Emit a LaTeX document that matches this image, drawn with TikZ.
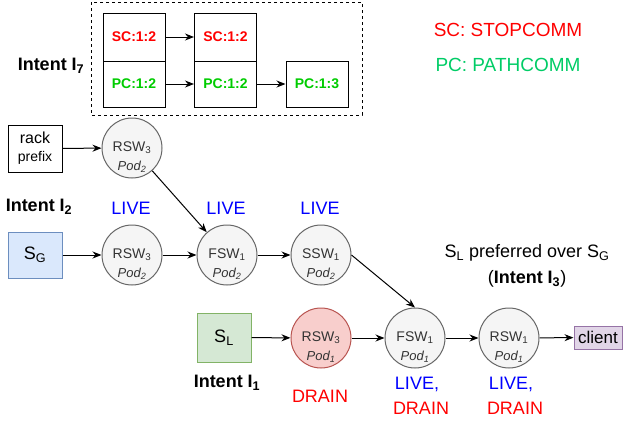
\documentclass[tikz,border=0pt]{standalone}
\usepackage{fontspec}
\setmainfont{Liberation Sans}
\usetikzlibrary{arrows.meta}
\definecolor{nodefill}{HTML}{F5F5F5}
\definecolor{nodeline}{HTML}{666666}
\definecolor{nodetext}{HTML}{333333}
\definecolor{sgfill}{HTML}{DAE8FC}
\definecolor{sgline}{HTML}{6C8EBF}
\definecolor{slfill}{HTML}{D5E8D4}
\definecolor{slline}{HTML}{82B366}
\definecolor{drfill}{HTML}{F8CECC}
\definecolor{drline}{HTML}{B85450}
\definecolor{clfill}{HTML}{E1D5E7}
\definecolor{clline}{HTML}{9673A6}
\definecolor{scred}{HTML}{FF0000}
\definecolor{pcgreen}{HTML}{00CC00}
\definecolor{pclegend}{HTML}{00CC66}
\definecolor{liveblue}{HTML}{0000FF}
\newcommand{\fs}[1]{\fontsize{#1}{#1}\selectfont}
\tikzset{
  sw/.style={circle, draw=nodeline, fill=nodefill, line width=1pt, minimum size=60pt, inner sep=0pt, text=nodetext, font=\fs{14}},
  podtext/.style={text=nodetext, font=\fs{13}\itshape, inner sep=0pt},
  cbox/.style={rectangle, draw=black, line width=1pt, minimum width=62pt, inner sep=0pt, font=\fs{14}\bfseries},
  plainbox/.style={rectangle, draw=black, line width=1pt, minimum width=54pt, minimum height=47pt, inner sep=0pt},
  colbox/.style={rectangle, line width=1pt, minimum width=54pt, minimum height=47pt, inner sep=0pt, font=\fs{18}},
  arr/.style={-{Stealth[length=9pt,width=7pt]}, line width=1pt, black},
  intent/.style={font=\fs{18}\bfseries, inner sep=0pt},
  state/.style={font=\fs{18}, inner sep=0pt, align=center},
  legend/.style={font=\fs{19}, inner sep=0pt}
}
\begin{document}
\begin{tikzpicture}[x=1pt, y=-1pt]
\useasboundingbox (0,0) rectangle (624,423);
% dashed frame
\draw[dashed, line width=1pt, dash pattern=on 3pt off 3pt] (91,2) rectangle (362,115);
% top boxes
\node[cbox, minimum height=48pt, text=scred] (sc1) at (134,37) {SC:1:2};
\node[cbox, minimum height=46pt, text=pcgreen] (pc1) at (134,84) {PC:1:2};
\node[cbox, minimum height=48pt, text=scred] (sc2) at (225.5,37) {SC:1:2};
\node[cbox, minimum height=46pt, text=pcgreen] (pc2) at (225.5,84) {PC:1:2};
\node[cbox, minimum height=46pt, text=pcgreen] (pc3) at (317,84) {PC:1:3};
\draw[arr] (sc1) -- (sc2);
\draw[arr] (pc1) -- (pc2);
\draw[arr] (pc2) -- (pc3);
\node[intent] (i7) at (51,66) {Intent I\textsubscript{7}};
% legend
\node[legend, text=scred] (lsc) at (508,30) {SC: STOPCOMM};
\node[legend, text=pclegend] (lpc) at (508,65) {PC: PATHCOMM};
% rack prefix
\node[plainbox, align=center, font=\fontsize{14}{18}\selectfont] (rack) at (35,148.5) {{\fs{16}rack}\\prefix};
\node[sw, label={[podtext, yshift=-19pt]center:\textit{Pod}\textsubscript{2}}] (rswt) at (132,148) {RSW\textsubscript{3}};
\draw[arr] (rack) -- (rswt);
% intent I2 row
\node[intent] (i2) at (39,207) {Intent I\textsubscript{2}};
\node[state, text=liveblue] (live1) at (131,208) {LIVE};
\node[state, text=liveblue] (live2) at (226,208) {LIVE};
\node[state, text=liveblue] (live3) at (320,208) {LIVE};
\node[colbox, draw=sgline, fill=sgfill, minimum height=46pt] (sg) at (35,255) {S\textsubscript{G}};
\node[sw, label={[podtext, yshift=-19pt]center:\textit{Pod}\textsubscript{2}}] (rsw2) at (132,255) {RSW\textsubscript{3}};
\node[sw, label={[podtext, yshift=-19pt]center:\textit{Pod}\textsubscript{2}}] (fsw2) at (227,255) {FSW\textsubscript{1}};
\node[sw, label={[podtext, yshift=-19pt]center:\textit{Pod}\textsubscript{2}}] (ssw2) at (321,255) {SSW\textsubscript{1}};
\draw[arr] (sg) -- (rsw2);
\draw[arr] (rsw2) -- (fsw2);
\draw[arr] (fsw2) -- (ssw2);
\draw[arr] (rswt) -- (fsw2);
% preference text
\node[font=\fs{18}, inner sep=0pt] (pref) at (527,253) {S\textsubscript{L} preferred over S\textsubscript{G}};
\node[font=\fs{18}, inner sep=0pt] (i3) at (527,279) {(\textbf{Intent I\textsubscript{3}})};
% bottom row
\node[colbox, draw=slline, fill=slfill, minimum height=49pt] (sl) at (224,337.5) {S\textsubscript{L}};
\node[sw, draw=drline, fill=drfill, label={[podtext, yshift=-19pt]center:\textit{Pod}\textsubscript{1}}] (rsw1) at (321,338) {RSW\textsubscript{3}};
\node[sw, label={[podtext, yshift=-19pt]center:\textit{Pod}\textsubscript{1}}] (fsw1) at (415,338) {FSW\textsubscript{1}};
\node[sw, label={[podtext, yshift=-19pt]center:\textit{Pod}\textsubscript{1}}] (rswc) at (509,338) {RSW\textsubscript{1}};
\node[rectangle, draw=clline, fill=clfill, line width=1pt, minimum width=48pt, minimum height=23pt, inner sep=0pt, font=\fs{17}] (client) at (598,337.5) {client};
\draw[arr] (sl) -- (rsw1);
\draw[arr] (rsw1) -- (fsw1);
\draw[arr] (fsw1) -- (rswc);
\draw[arr] (rswc) -- (client);
\draw[arr] (ssw2.east) -- (fsw1.north);
% bottom labels
\node[intent] (i1) at (227,383) {Intent I\textsubscript{1}};
\node[state, text=scred] (dr1) at (320,396) {DRAIN};
\node[state, text=liveblue] (lv2) at (417,384) {LIVE,};
\node[state, text=scred] (dr2) at (421,408) {DRAIN};
\node[state, text=liveblue] (lv3) at (511,384) {LIVE,};
\node[state, text=scred] (dr3) at (515,408) {DRAIN};
\end{tikzpicture}
\end{document}
